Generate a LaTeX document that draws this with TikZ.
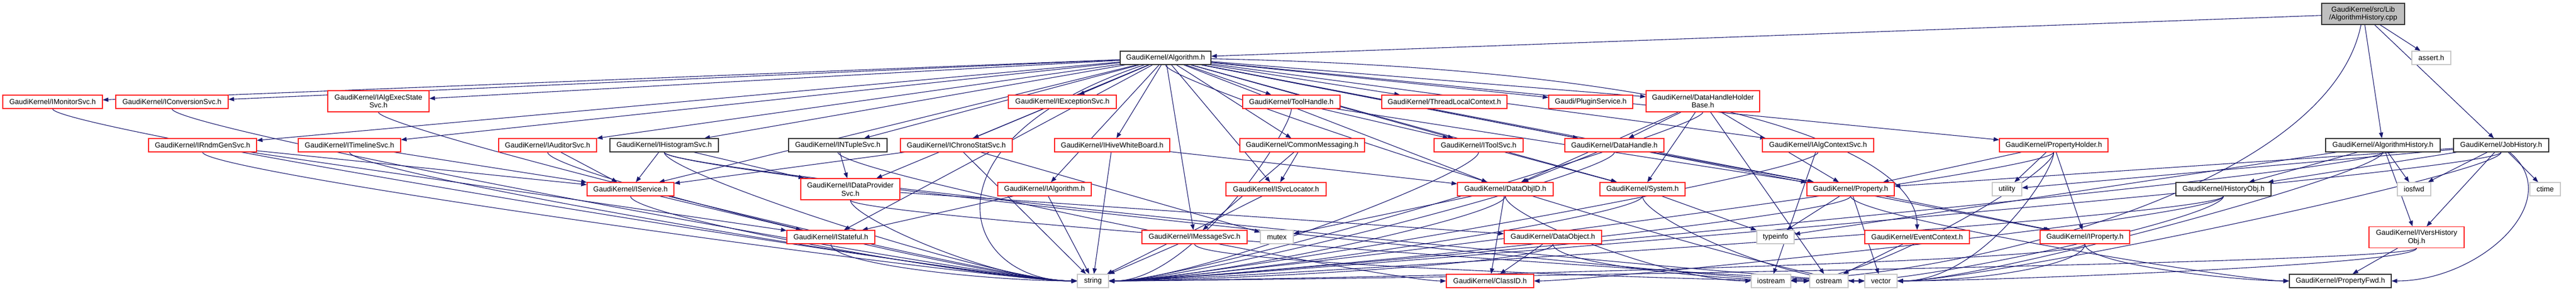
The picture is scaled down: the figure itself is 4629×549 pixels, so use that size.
\documentclass[tikz,border=0pt]{standalone}
\usepackage{fontspec}
\setmainfont{Liberation Sans}
\usetikzlibrary{arrows.meta}
\definecolor{edgec}{HTML}{191970}
\definecolor{redb}{HTML}{FF2020}
\definecolor{grayb}{HTML}{C8C8C8}
\definecolor{rootf}{HTML}{BFBFBF}
\pgfdeclarelayer{bg}
\pgfsetlayers{bg,main}
\tikzset{
  nb/.style={draw, line width=1.2pt, fill=white, minimum height=24pt, inner sep=0pt,
             font=\fontsize{13}{14.7}\selectfont, align=center},
  rb/.style={nb, draw=redb},
  kb/.style={nb, draw=black!80},
  gb/.style={nb, draw=grayb},
  tb/.style={minimum height=38pt},
  lnk/.style={draw=edgec, line width=1.1pt, -{Triangle[length=10pt,width=7.5pt]}}
}
\newcommand\edS[2]{\draw[lnk] (#1) -- (#2);}
\newcommand\edL[2]{\draw[lnk] (#1) .. controls +(0,-50) and +(-180,0) .. (#2);}
\newcommand\edR[2]{\draw[lnk] (#1) .. controls +(0,-50) and +(180,0) .. (#2);}
\begin{document}
\begin{tikzpicture}[x=1pt,y=1pt]
\useasboundingbox (0,0) rectangle (4629,-549);
% row 0/1
\node[nb, fill=rootf, draw=black!80, tb, minimum width=149pt] (cpp) at (4246.5,-25) {GaudiKernel/src/Lib\\/AlgorithmHistory.cpp};
\node[kb, minimum width=163pt] (alg) at (2094.5,-104) {GaudiKernel/Algorithm.h};
\node[gb, minimum width=70pt] (assert) at (4369,-104) {assert.h};
% row 2
\node[rb, minimum width=179pt] (imon) at (94.5,-183) {GaudiKernel/IMonitorSvc.h};
\node[rb, minimum width=202pt] (iconv) at (309,-183) {GaudiKernel/IConversionSvc.h};
\node[rb, tb, minimum width=182pt] (iaes) at (680,-182) {GaudiKernel/IAlgExecState\\Svc.h};
\node[rb, minimum width=194pt] (iexc) at (1909,-183) {GaudiKernel/IExceptionSvc.h};
\node[rb, minimum width=175pt] (toolh) at (2320.5,-183) {GaudiKernel/ToolHandle.h};
\node[rb, minimum width=225pt] (tlc) at (2595.5,-183) {GaudiKernel/ThreadLocalContext.h};
\node[rb, minimum width=151pt] (plugin) at (2858.5,-183) {Gaudi/PluginService.h};
\node[rb, tb, minimum width=204pt] (dhhb) at (3060,-182) {GaudiKernel/DataHandleHolder\\Base.h};
% row 3
\node[rb, minimum width=194pt] (irndm) at (364,-261) {GaudiKernel/IRndmGenSvc.h};
\node[rb, minimum width=184pt] (itime) at (628,-261) {GaudiKernel/ITimelineSvc.h};
\node[rb, minimum width=176pt] (iaud) at (984,-261) {GaudiKernel/IAuditorSvc.h};
\node[kb, minimum width=195pt] (ihist) at (1193.5,-261) {GaudiKernel/IHistogramSvc.h};
\node[kb, minimum width=177pt] (intup) at (1505.5,-261) {GaudiKernel/INTupleSvc.h};
\node[rb, minimum width=201pt] (ichrono) at (1718.5,-261) {GaudiKernel/IChronoStatSvc.h};
\node[rb, minimum width=207pt] (ihive) at (1998.5,-261) {GaudiKernel/IHiveWhiteBoard.h};
\node[rb, minimum width=224pt] (cmsg) at (2340,-261) {GaudiKernel/CommonMessaging.h};
\node[rb, minimum width=160pt] (itoolsvc) at (2657,-261) {GaudiKernel/IToolSvc.h};
\node[rb, minimum width=178pt] (dhandle) at (2901,-261) {GaudiKernel/DataHandle.h};
\node[rb, minimum width=200pt] (ialgctx) at (3267,-261) {GaudiKernel/IAlgContextSvc.h};
\node[rb, minimum width=195pt] (propholder) at (3690.5,-261) {GaudiKernel/PropertyHolder.h};
\node[kb, minimum width=206pt] (alghist) at (4282,-261) {GaudiKernel/AlgorithmHistory.h};
\node[kb, minimum width=171pt] (jobhist) at (4494.5,-261) {GaudiKernel/JobHistory.h};
% row 4
\node[rb, minimum width=156pt] (isvc) at (1133,-340) {GaudiKernel/IService.h};
\node[rb, tb, minimum width=178pt] (idps) at (1528,-340) {GaudiKernel/IDataProvider\\Svc.h};
\node[rb, minimum width=168pt] (ialgo) at (1877,-340) {GaudiKernel/IAlgorithm.h};
\node[rb, minimum width=180pt] (isvcloc) at (2293,-340) {GaudiKernel/ISvcLocator.h};
\node[rb, minimum width=172pt] (dataobjid) at (2705,-340) {GaudiKernel/DataObjID.h};
\node[rb, minimum width=153pt] (system) at (2951.5,-340) {GaudiKernel/System.h};
\node[rb, minimum width=157pt] (property) at (3325.5,-340) {GaudiKernel/Property.h};
\node[gb, minimum width=53pt] (utility) at (3606.5,-340) {utility};
\node[kb, minimum width=171pt] (histobj) at (3995.5,-340) {GaudiKernel/HistoryObj.h};
\node[gb, minimum width=60pt] (iosfwd) at (4338,-340) {iosfwd};
\node[gb, minimum width=55pt] (ctime) at (4573.5,-340) {ctime};
% row 5
\node[rb, minimum width=158pt] (istateful) at (1493,-426) {GaudiKernel/IStateful.h};
\node[rb, minimum width=189pt] (imsg) at (2146.5,-426) {GaudiKernel/IMessageSvc.h};
\node[gb, minimum width=59pt] (mutex) at (2294.5,-426) {mutex};
\node[rb, minimum width=175pt] (dataobject) at (2790.5,-426) {GaudiKernel/DataObject.h};
\node[gb, minimum width=67pt] (typeinfo) at (3190.5,-426) {typeinfo};
\node[rb, minimum width=188pt] (evctx) at (3445,-426) {GaudiKernel/EventContext.h};
\node[rb, minimum width=161pt] (iprop) at (3746.5,-426) {GaudiKernel/IProperty.h};
\node[rb, tb, minimum width=171pt] (ivers) at (4342.5,-426.5) {GaudiKernel/IVersHistory\\Obj.h};
% row 6
\node[gb, minimum width=56pt] (string) at (1964,-505) {string};
\node[rb, minimum width=157pt] (classid) at (2677.5,-505) {GaudiKernel/ClassID.h};
\node[gb, minimum width=71pt] (iostream) at (3182.5,-505) {iostream};
\node[gb, minimum width=69pt] (ostream) at (3286.5,-505) {ostream};
\node[gb, minimum width=58pt] (vector) at (3380,-505) {vector};
\node[kb, minimum width=183pt] (propfwd) at (4205.5,-505) {GaudiKernel/PropertyFwd.h};

\begin{pgfonlayer}{bg}
\fill[white] (0,0) rectangle (4629,-549);
\foreach \a/\b in {cpp/alg, cpp/assert, cpp/alghist, cpp/jobhist,
  alg/imon, alg/iconv, alg/iaes, alg/iexc, alg/toolh, alg/tlc, alg/plugin, alg/dhhb,
  alg/irndm, alg/itime, alg/iaud, alg/ihist, alg/intup, alg/ichrono, alg/ihive, alg/cmsg,
  alg/itoolsvc, alg/dhandle, alg/ialgctx, alg/propholder, alg/isvc, alg/idps, alg/ialgo,
  alg/isvcloc, alg/dataobjid, alg/system, alg/property, alg/istateful, alg/imsg, alg/iprop,
  toolh/itoolsvc, toolh/property,
  irndm/isvc, irndm/istateful, itime/isvc, iaud/isvc, ihist/isvc, ihist/idps, intup/idps,
  ichrono/isvc, ichrono/string, ichrono/mutex, ihive/string, ihive/dataobjid,
  cmsg/isvcloc, cmsg/imsg, itoolsvc/system, dhandle/dataobjid, dhandle/property,
  dhhb/dhandle, dhhb/dataobjid, dhhb/system, dhhb/property, dhhb/ostream,
  ialgctx/iostream, propholder/iprop, propholder/utility, propholder/property,
  isvc/istateful, idps/dataobject, ialgo/istateful, ialgo/string, isvcloc/string,
  dataobjid/mutex, dataobjid/classid, system/typeinfo, property/iprop, property/typeinfo,
  property/vector, imsg/string, dataobject/classid, evctx/ostream, ivers/propfwd,
  alghist/histobj, alghist/ivers, alghist/iosfwd, alghist/typeinfo,
  jobhist/histobj, jobhist/ivers, jobhist/iosfwd, jobhist/ctime, jobhist/utility, jobhist/property}
  {\edS{\a}{\b}}
\foreach \a/\b in {imon/string, iconv/string, irndm/string, itime/string, iaes/string,
  iaud/string, ihist/string, isvc/string, idps/string, istateful/string,
  alg/vector, ihist/vector, idps/vector, system/vector,
  ihist/ostream, imsg/ostream, dataobject/ostream,
  intup/classid, dataobjid/iostream, property/propfwd, iprop/propfwd}
  {\edL{\a}{\b}}
\foreach \a/\b in {toolh/string, itoolsvc/string, dhandle/string, dhhb/string, ialgctx/string,
  propholder/string, dataobjid/string, system/string, property/string, histobj/string,
  dataobject/string, iprop/string, ivers/string, alghist/string, jobhist/string,
  propholder/vector, iprop/vector, ivers/vector, alghist/vector, jobhist/vector,
  propholder/iostream, histobj/ostream, histobj/classid}
  {\edR{\a}{\b}}
\draw[lnk] (alg) .. controls (1650,-250) and (1720,-505) .. (string);
\draw[lnk] (cpp) .. controls +(-60,-300) and +(400,20) .. (iostream);
\draw[lnk] (alg) .. controls +(1000,-20) and +(0,150) .. (evctx);
\draw[lnk] (jobhist) .. controls +(120,-100) and +(250,0) .. (propfwd);
\end{pgfonlayer}
\end{tikzpicture}
\end{document}
